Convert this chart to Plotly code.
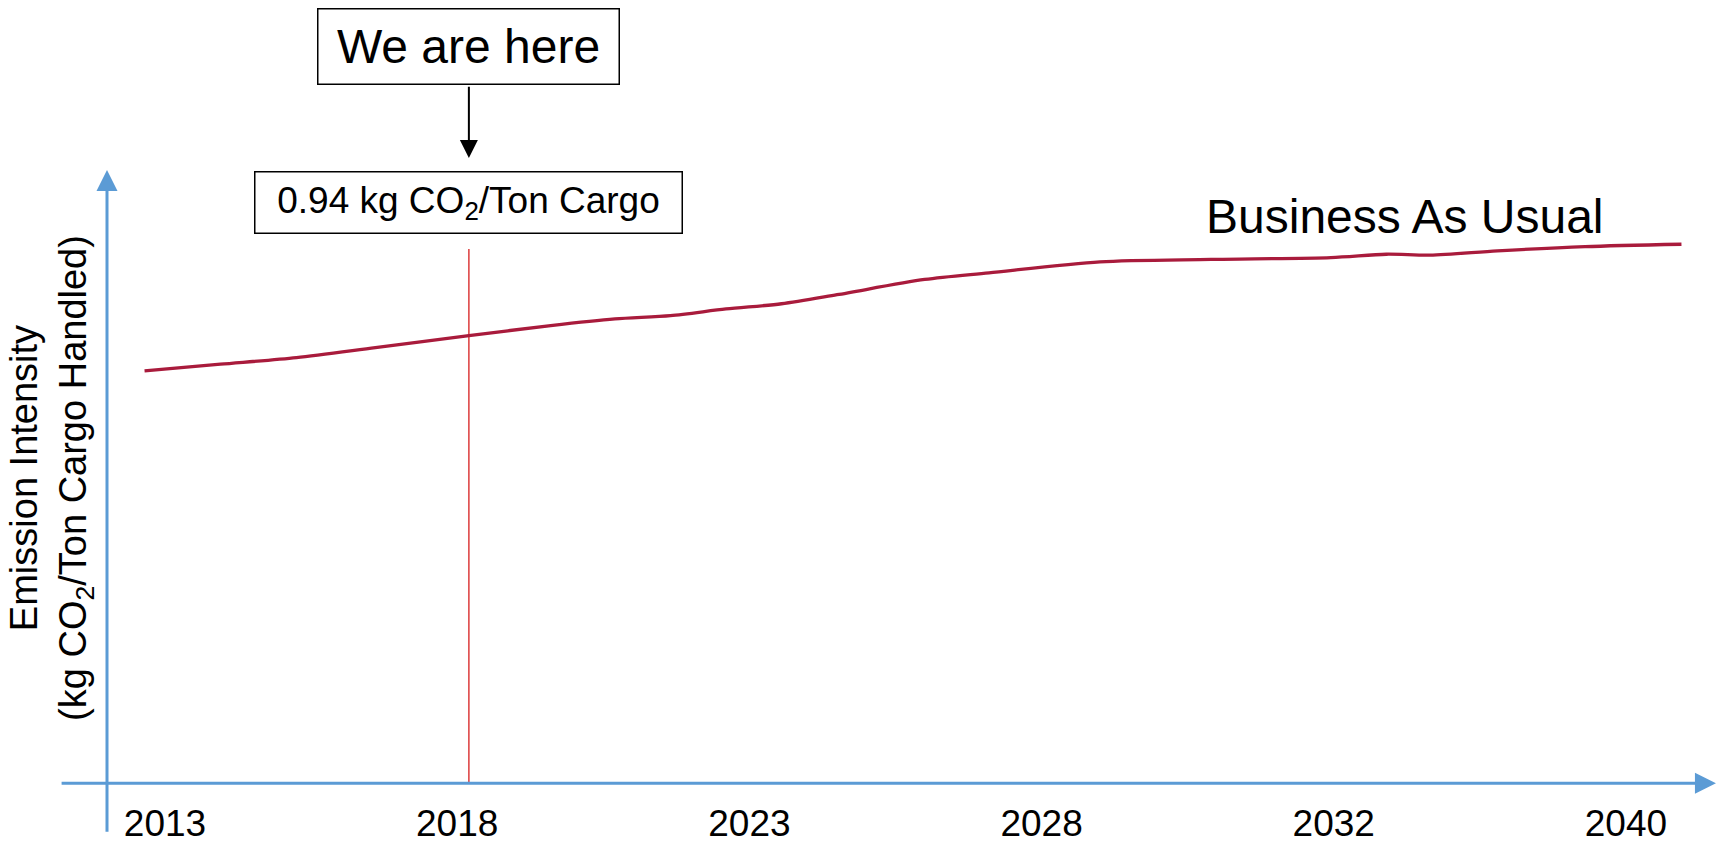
import plotly.graph_objects as go

# Tick positions along the timeline (evenly spaced milestones)
tick_pos = [0, 1, 2, 3, 4, 5]
tick_years = ["2013", "2018", "2023", "2028", "2032", "2040"]

# Business-as-usual emission intensity (kg CO2 / ton cargo)
bau_pos = [-0.07, 0.19, 0.45, 0.72, 1.04, 1.32, 1.54, 1.73, 1.92, 2.11, 2.30,
           2.60, 2.82, 3.20, 3.58, 3.99, 4.18, 4.33, 4.56, 4.86, 5.19]
bau_intensity = [0.866, 0.880, 0.894, 0.915, 0.940, 0.961, 0.975, 0.982, 0.996,
                 1.007, 1.026, 1.058, 1.072, 1.095, 1.100, 1.104, 1.111, 1.109,
                 1.118, 1.127, 1.132]

# Current position marker
now_pos = 1.04
now_intensity = 0.94

FONT = "Liberation Sans, Arial, sans-serif"
AXIS_BLUE = "#5B9BD5"
LINE_RED = "#A91B3C"

X_RANGE = [-0.5647, 5.339]
Y_RANGE = [-0.132, 1.645]

fig = go.Figure()

# Current-year guide line
fig.add_trace(go.Scatter(
    x=[now_pos, now_pos], y=[0, 1.122], mode="lines",
    line=dict(color="#DC3B3B", width=1.5), hoverinfo="skip", showlegend=False,
))

# Business-as-usual curve
fig.add_trace(go.Scatter(
    x=bau_pos, y=bau_intensity, mode="lines",
    line=dict(color=LINE_RED, width=3.3, shape="spline", smoothing=0.8),
    showlegend=False,
))

annotations = [
    # horizontal axis arrow
    dict(x=5.308, y=0, ax=-0.359, ay=0, xref="x", yref="y", axref="x", ayref="y",
         text="", showarrow=True, arrowhead=2, arrowsize=1.4, arrowwidth=3,
         arrowcolor=AXIS_BLUE, standoff=0),
    # vertical axis arrow
    dict(x=-0.1985, y=1.288, ax=-0.1985, ay=-0.105, xref="x", yref="y",
         axref="x", ayref="y", text="", showarrow=True, arrowhead=2,
         arrowsize=1.4, arrowwidth=3, arrowcolor=AXIS_BLUE, standoff=0),
    # pointer from the callout to the value box
    dict(x=now_pos, y=1.313, ax=now_pos, ay=1.466, xref="x", yref="y",
         axref="x", ayref="y", text="", showarrow=True, arrowhead=2,
         arrowsize=1.8, arrowwidth=2, arrowcolor="black", standoff=0),
    # "We are here" callout
    dict(x=now_pos, y=1.548, xref="x", yref="y", text="We are here",
         showarrow=False, font=dict(family=FONT, size=48, color="black"),
         bordercolor="black", borderwidth=1.5, borderpad=0,
         width=300, height=74, bgcolor="white"),
    # value box
    dict(x=now_pos, y=1.2195, xref="x", yref="y",
         text=f"{now_intensity:.2f} kg CO<sub>2</sub>/Ton Cargo",
         showarrow=False, font=dict(family=FONT, size=37, color="black"),
         bordercolor="black", borderwidth=1.5, borderpad=0,
         width=426, height=60, bgcolor="white"),
    # series label
    dict(x=4.244, y=1.191, xref="x", yref="y", text="Business As Usual",
         showarrow=False, font=dict(family=FONT, size=48, color="black")),
    # y-axis title
    dict(x=-0.387, y=0.641, xref="x", yref="y", textangle=-90,
         text="Emission Intensity<br>(kg CO<sub>2</sub>/Ton Cargo Handled)",
         showarrow=False, font=dict(family=FONT, size=38, color="black")),
]

fig.update_layout(
    width=1725, height=846,
    margin=dict(l=0, r=0, t=0, b=0),
    paper_bgcolor="white", plot_bgcolor="white",
    annotations=annotations,
    xaxis=dict(range=X_RANGE, showgrid=False, zeroline=False, showline=False,
               tickvals=tick_pos, ticktext=tick_years, ticks="",
               ticklabelposition="inside",
               tickfont=dict(family=FONT, size=37, color="black"),
               fixedrange=True),
    yaxis=dict(range=Y_RANGE, showgrid=False, zeroline=False, showline=False,
               showticklabels=False, ticks="", fixedrange=True),
)

fig.write_html("out.html", config={"displayModeBar": False})
